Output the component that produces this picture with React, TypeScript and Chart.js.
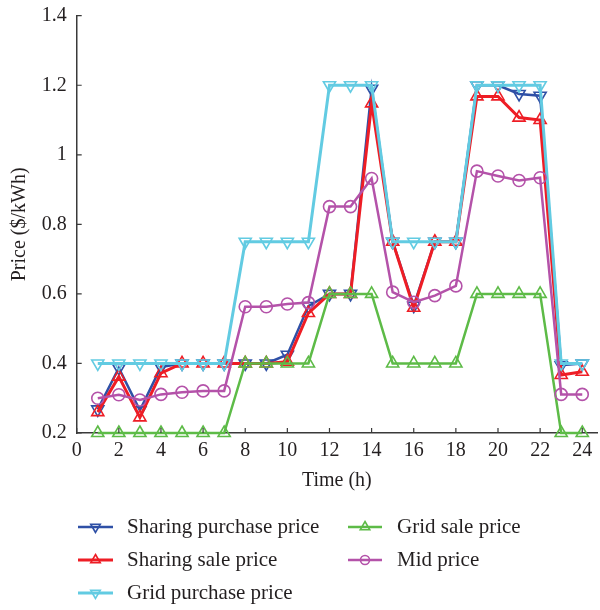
import React, { useEffect, useRef } from "react";
import { Chart, registerables } from "chart.js";

Chart.register(...registerables);

const hours = [1, 2, 3, 4, 5, 6, 7, 8, 9, 10, 11, 12, 13, 14, 15, 16, 17, 18, 19, 20, 21, 22, 23, 24];
const sharingPurchase = [0.268, 0.387, 0.265, 0.39, 0.4, 0.4, 0.4, 0.4, 0.4, 0.425, 0.565, 0.6, 0.6, 1.19, 0.75, 0.566, 0.75, 0.75, 1.2, 1.2, 1.175, 1.17, 0.395, 0.4];
const sharingSale = [0.26, 0.362, 0.245, 0.372, 0.4, 0.4, 0.4, 0.4, 0.4, 0.405, 0.545, 0.6, 0.6, 1.148, 0.75, 0.56, 0.75, 0.75, 1.168, 1.168, 1.107, 1.1, 0.367, 0.376];
const gridPurchase = [0.4, 0.4, 0.4, 0.4, 0.4, 0.4, 0.4, 0.75, 0.75, 0.75, 0.75, 1.2, 1.2, 1.2, 0.75, 0.75, 0.75, 0.75, 1.2, 1.2, 1.2, 1.2, 0.4, 0.4];
const gridSale = [0.2, 0.2, 0.2, 0.2, 0.2, 0.2, 0.2, 0.4, 0.4, 0.4, 0.4, 0.6, 0.6, 0.6, 0.4, 0.4, 0.4, 0.4, 0.6, 0.6, 0.6, 0.6, 0.2, 0.2];
const midPrice = [0.3, 0.31, 0.295, 0.311, 0.317, 0.321, 0.321, 0.563, 0.563, 0.571, 0.575, 0.851, 0.851, 0.932, 0.605, 0.576, 0.595, 0.623, 0.953, 0.939, 0.926, 0.934, 0.311, 0.311];

const seriesNames = ["Sharing purchase price", "Sharing sale price", "Grid purchase price", "Grid sale price", "Mid price"];
const xTicks = [0, 2, 4, 6, 8, 10, 12, 14, 16, 18, 20, 22, 24];
const yTicks = [0.2, 0.4, 0.6, 0.8, 1, 1.2, 1.4];
const xTitle = "Time (h)";
const yTitle = "Price ($/kWh)";

const FONT = "'Liberation Serif', 'DejaVu Serif', serif";
const TEXT = "#231f20";
const AXIS = "#3a3a3a";

const styles = [
  { color: "#2f50a6", style: "triangle", rotation: 180, radius: 7, width: 2.5 },
  { color: "#ee1d25", style: "triangle", rotation: 0, radius: 7, width: 3 },
  { color: "#62cbe2", style: "triangle", rotation: 180, radius: 7, width: 3 },
  { color: "#5dbb47", style: "triangle", rotation: 0, radius: 7, width: 2.5 },
  { color: "#b452a9", style: "circle", rotation: 0, radius: 6, width: 2.5 },
];

// legend layout: [row, col]
const legendSlots = [
  [0, 0],
  [1, 0],
  [2, 0],
  [0, 1],
  [1, 1],
];

function drawMarker(ctx: CanvasRenderingContext2D, s: any, x: number, y: number) {
  ctx.save();
  ctx.strokeStyle = s.color;
  ctx.lineWidth = 1.6;
  ctx.beginPath();
  if (s.style === "circle") {
    ctx.arc(x, y, s.radius, 0, Math.PI * 2);
  } else {
    const r = s.radius;
    let rad = (s.rotation * Math.PI) / 180;
    for (let k = 0; k < 3; k++) {
      const px = x + Math.sin(rad) * r;
      const py = y - Math.cos(rad) * r;
      if (k === 0) ctx.moveTo(px, py);
      else ctx.lineTo(px, py);
      rad += (2 * Math.PI) / 3;
    }
    ctx.closePath();
  }
  ctx.stroke();
  ctx.restore();
}

const legendPlugin = {
  id: "customLegend",
  afterDraw(chart: any) {
    const ctx = chart.ctx as CanvasRenderingContext2D;
    const rowsY = [527, 560, 593];
    const cols = [
      { x1: 78, x2: 113, tx: 127 },
      { x1: 348, x2: 382, tx: 397 },
    ];
    seriesNames.forEach((name, i) => {
      const [r, c] = legendSlots[i];
      const y = rowsY[r];
      const col = cols[c];
      const s = styles[i];
      ctx.save();
      ctx.strokeStyle = s.color;
      ctx.lineWidth = s.width;
      ctx.beginPath();
      ctx.moveTo(col.x1, y);
      ctx.lineTo(col.x2, y);
      ctx.stroke();
      ctx.restore();
      drawMarker(ctx, { ...s, radius: s.style === "circle" ? 4.5 : 5.5 }, (col.x1 + col.x2) / 2, y);
      ctx.save();
      ctx.fillStyle = TEXT;
      ctx.font = `21px ${FONT}`;
      ctx.textBaseline = "middle";
      ctx.textAlign = "left";
      ctx.fillText(name, col.tx, y);
      ctx.restore();
    });
  },
};

const innerTicksPlugin = {
  id: "innerTicks",
  afterDraw(chart: any) {
    const ctx = chart.ctx as CanvasRenderingContext2D;
    const xs = chart.scales.x;
    const ys = chart.scales.y;
    const area = chart.chartArea;
    ctx.save();
    ctx.strokeStyle = AXIS;
    ctx.lineWidth = 1.2;
    ctx.beginPath();
    xs.ticks.forEach((t: any) => {
      const px = xs.getPixelForValue(t.value);
      ctx.moveTo(px, area.bottom);
      ctx.lineTo(px, area.bottom - 5);
    });
    ys.ticks.forEach((t: any) => {
      const py = ys.getPixelForValue(t.value);
      ctx.moveTo(area.left, py);
      ctx.lineTo(area.left + 5, py);
    });
    ctx.stroke();
    ctx.restore();
  },
};

export default function App() {
  const ref = useRef<HTMLCanvasElement | null>(null);

  useEffect(() => {
    if (!ref.current) return;
    const all = [sharingPurchase, sharingSale, gridPurchase, gridSale, midPrice];
    const datasets = all.map((values, i) => {
      const s = styles[i];
      return {
        label: seriesNames[i],
        data: hours.map((h, k) => ({ x: h, y: values[k] })),
        borderColor: s.color,
        backgroundColor: s.color,
        borderWidth: s.width,
        pointStyle: s.style,
        pointRotation: s.rotation,
        pointRadius: s.radius,
        pointBorderWidth: 1.6,
        pointBorderColor: s.color,
        pointBackgroundColor: "rgba(0,0,0,0)",
        tension: 0,
        clip: false,
        order: all.length - i,
      };
    });

    const chart = new Chart(ref.current, {
      type: "line",
      data: { datasets } as any,
      options: {
        animation: false,
        responsive: false,
        maintainAspectRatio: false,
        layout: { autoPadding: false, padding: { top: 15.7, right: 3, left: 0, bottom: 110 } },
        plugins: { legend: { display: false }, tooltip: { enabled: false } },
        scales: {
          x: {
            type: "linear",
            min: 0,
            max: 24.7,
            afterFit: (scale: any) => {
              scale.height = 67;
              scale.paddingLeft = 0;
              scale.paddingRight = 0;
            },
            afterBuildTicks: (scale: any) => {
              scale.ticks = xTicks.map((v) => ({ value: v }));
            },
            grid: { display: false, drawTicks: false },
            border: { display: true, color: AXIS, width: 1.5 },
            ticks: {
              color: TEXT,
              font: { family: FONT, size: 20 },
              padding: 6,
              maxRotation: 0,
              autoSkip: false,
              callback: (v: any) => String(v),
            },
            title: {
              display: true,
              text: xTitle,
              color: TEXT,
              font: { family: FONT, size: 20 },
              padding: { top: 0, bottom: 7 },
            },
          },
          y: {
            type: "linear",
            min: 0.2,
            max: 1.4,
            afterFit: (scale: any) => {
              scale.width = 76.7;
              scale.paddingTop = 0;
              scale.paddingBottom = 0;
            },
            afterBuildTicks: (scale: any) => {
              scale.ticks = yTicks.map((v) => ({ value: v }));
            },
            grid: { display: false, drawTicks: false },
            border: { display: true, color: AXIS, width: 1.5 },
            ticks: {
              color: TEXT,
              font: { family: FONT, size: 20 },
              padding: 10,
              autoSkip: false,
              callback: (v: any) => String(Number(Number(v).toFixed(1))),
            },
            title: {
              display: true,
              text: yTitle,
              color: TEXT,
              font: { family: FONT, size: 20 },
              padding: { top: 8, bottom: 0 },
            },
          },
        },
      },
      plugins: [innerTicksPlugin, legendPlugin],
    } as any);

    return () => chart.destroy();
  }, []);

  return (
    <div style={{ position: "absolute", left: 0, top: 0, width: 600, height: 610, background: "#fff" }}>
      <canvas ref={ref} width={600} height={610} style={{ display: "block", width: 600, height: 610 }} />
    </div>
  );
}
